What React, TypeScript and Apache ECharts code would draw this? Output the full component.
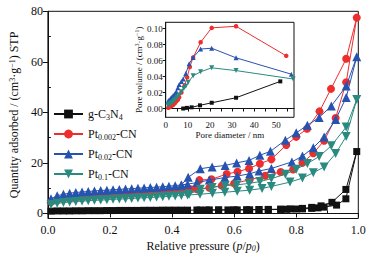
import React, { useEffect, useRef } from 'react';
import * as echarts from 'echarts';

const FONT = 'Liberation Serif';
const INK = '#111111';
const BLACK = '#111111';
const RED = '#ee2d2d';
const BLUE = '#2753b0';
const TEAL = '#2a8a80';
const DOWN_TRI = 'path://M0,0L10,0L5,9Z';

const seriesNames = ['g-C3N4', 'Pt0.002-CN', 'Pt0.02-CN', 'Pt0.1-CN'];
const legendLabels = ['g-C{sub|3}N{sub|4}', 'Pt{sub|0.002}-CN', 'Pt{sub|0.02}-CN', 'Pt{sub|0.1}-CN'];

const mainYTicks = [0, 20, 40, 60, 80];
const mainYMinor = [10, 30, 50, 70];
const mainXMinor = [0.1, 0.3, 0.5, 0.7, 0.9];
const insetXLabels = [0, 10, 20, 30, 40, 50];
const insetXTicks = [0, 5, 10, 15, 20, 25, 30, 35, 40, 45, 50, 55];
const insetYTicks = [0, 0.02, 0.04, 0.06, 0.08, 0.1];

// Isotherms: [p/p0, quantity adsorbed]
const gcnAds = [
  [0.01, 0.9], [0.03, 1.0], [0.05, 1.0], [0.07, 1.0], [0.09, 1.05], [0.11, 1.05], [0.13, 1.1], [0.15, 1.1],
  [0.17, 1.1], [0.19, 1.15], [0.21, 1.15], [0.23, 1.2], [0.25, 1.2], [0.27, 1.2], [0.29, 1.2], [0.31, 1.25],
  [0.33, 1.25], [0.35, 1.25], [0.37, 1.3], [0.39, 1.3], [0.41, 1.3], [0.43, 1.3], [0.45, 1.3], [0.49, 1.35],
  [0.51, 1.35], [0.55, 1.35], [0.58, 1.4], [0.61, 1.4], [0.65, 1.45], [0.68, 1.5], [0.71, 1.5], [0.75, 1.6],
  [0.77, 1.65], [0.8, 1.75], [0.82, 1.8], [0.85, 2.0], [0.87, 2.2], [0.89, 2.5], [0.93, 3.3], [0.96, 5.8],
  [0.995, 24.5],
];
const gcnDes = [
  [0.995, 24.5], [0.96, 9.5], [0.915, 4.4], [0.88, 3.0], [0.85, 2.4], [0.82, 2.0], [0.78, 1.8], [0.75, 1.7],
  [0.71, 1.6], [0.68, 1.55], [0.64, 1.5], [0.6, 1.45], [0.55, 1.4], [0.52, 1.4], [0.48, 1.35],
];
const pt002Ads = [
  [0.01, 4.5], [0.03, 5.2], [0.05, 5.6], [0.07, 5.9], [0.09, 6.1], [0.11, 6.3], [0.13, 6.5], [0.15, 6.7],
  [0.17, 6.9], [0.19, 7.0], [0.21, 7.2], [0.23, 7.3], [0.25, 7.5], [0.27, 7.6], [0.29, 7.8], [0.31, 7.9],
  [0.33, 8.1], [0.35, 8.2], [0.37, 8.4], [0.39, 8.6], [0.41, 8.8], [0.43, 9.0], [0.45, 9.2], [0.48, 9.6],
  [0.52, 10.2], [0.56, 11.0], [0.6, 11.9], [0.65, 13.3], [0.7, 14.9], [0.75, 16.4], [0.79, 17.4], [0.82, 20.0],
  [0.855, 23.8], [0.89, 28.8], [0.927, 37.8], [0.961, 51.9], [0.995, 77.5],
];
const pt002Des = [
  [0.995, 77.5], [0.961, 61.2], [0.912, 49.3], [0.875, 40.4], [0.835, 33.5], [0.8, 30.3], [0.768, 27.1],
  [0.72, 21.4], [0.683, 19.7], [0.648, 17.8], [0.611, 16.5], [0.576, 15.6], [0.527, 13.5], [0.488, 13.2],
  [0.46, 9.6],
];
const pt02Ads = [
  [0.01, 5.8], [0.03, 7.0], [0.05, 7.6], [0.07, 8.0], [0.09, 8.3], [0.11, 8.5], [0.13, 8.7], [0.15, 8.9],
  [0.17, 9.1], [0.19, 9.2], [0.21, 9.4], [0.23, 9.5], [0.25, 9.7], [0.27, 9.8], [0.29, 10.0], [0.31, 10.1],
  [0.33, 10.3], [0.35, 10.4], [0.37, 10.6], [0.39, 10.8], [0.41, 11.0], [0.43, 11.3], [0.45, 11.6], [0.48, 12.2],
  [0.52, 13.2], [0.57, 14.2], [0.61, 14.8], [0.65, 15.7], [0.68, 16.8], [0.72, 17.8], [0.786, 20.4], [0.82, 22.7],
  [0.855, 26.0], [0.89, 30.3], [0.927, 37.2], [0.961, 45.9], [0.995, 62.0],
];
const pt02Des = [
  [0.995, 62.0], [0.961, 50.4], [0.913, 42.5], [0.874, 38.0], [0.836, 34.9], [0.8, 31.9], [0.765, 29.0],
  [0.717, 24.6], [0.683, 23.0], [0.648, 21.0], [0.608, 20.0], [0.571, 19.0], [0.529, 18.4], [0.491, 17.7],
  [0.452, 14.3], [0.43, 11.3],
];
const pt1Ads = [
  [0.01, 3.5], [0.03, 4.0], [0.05, 4.3], [0.07, 4.5], [0.09, 4.7], [0.11, 4.9], [0.13, 5.0], [0.15, 5.2],
  [0.17, 5.3], [0.19, 5.4], [0.21, 5.6], [0.23, 5.7], [0.25, 5.8], [0.27, 5.9], [0.29, 6.1], [0.31, 6.2],
  [0.33, 6.3], [0.35, 6.5], [0.37, 6.6], [0.39, 6.8], [0.41, 6.9], [0.43, 7.1], [0.45, 7.3], [0.49, 7.6],
  [0.53, 8.0], [0.57, 8.4], [0.61, 8.8], [0.65, 9.2], [0.69, 9.9], [0.72, 10.7], [0.78, 12.4], [0.82, 14.0],
  [0.855, 16.1], [0.89, 18.4], [0.927, 23.7], [0.961, 30.5], [0.995, 45.1],
];
const pt1Des = [
  [0.995, 45.1], [0.961, 34.2], [0.913, 26.8], [0.874, 22.5], [0.836, 19.8], [0.8, 17.5], [0.765, 15.5],
  [0.72, 13.8], [0.683, 12.6], [0.648, 11.9], [0.608, 11.3], [0.571, 11.0], [0.529, 10.3], [0.491, 9.6],
  [0.455, 7.6],
];

// Inset pore size distribution: [pore diameter nm, pore volume]
const gcnPore = [[7.9, 0.0], [9.6, 0.0008], [11.7, 0.0015], [15.5, 0.004], [20.8, 0.0072], [31.8, 0.0135], [51.8, 0.034]];
const pt002Pore = [
  [1.2, 0.001], [1.6, 0.002], [2.0, 0.002], [2.5, 0.003], [3.0, 0.004], [3.5, 0.005], [4.2, 0.007], [4.8, 0.009],
  [5.5, 0.011], [6.1, 0.014], [7.1, 0.02], [8.6, 0.029], [9.7, 0.039], [10.9, 0.052], [12.4, 0.064], [15.8, 0.083],
  [20.8, 0.101], [31.8, 0.103], [54.5, 0.066],
];
const pt02Pore = [
  [1.2, 0.01], [1.8, 0.011], [2.3, 0.013], [2.8, 0.014], [3.3, 0.016], [3.8, 0.017], [4.3, 0.019], [4.8, 0.021],
  [5.5, 0.026], [6.1, 0.03], [7.1, 0.034], [7.9, 0.037], [9.1, 0.044], [10.6, 0.056], [12.4, 0.064], [15.8, 0.0745],
  [20.8, 0.0755], [31.8, 0.0635], [56.8, 0.043],
];
const pt1Pore = [
  [1.0, 0.004], [1.5, 0.005], [2.0, 0.006], [2.6, 0.007], [3.2, 0.008], [3.8, 0.01], [4.5, 0.012], [5.2, 0.014],
  [6.0, 0.017], [7.1, 0.021], [8.2, 0.025], [9.1, 0.028], [10.2, 0.033], [12.4, 0.041], [15.8, 0.046], [20.8, 0.051],
  [31.8, 0.0475], [57.6, 0.037],
];

const colors = [BLACK, RED, BLUE, TEAL];
const symbols = ['rect', 'circle', 'triangle', DOWN_TRI];
const mainSizes = [7, 8, 9, 9];
const insetSizes = [4, 4.5, 5, 5];
const isotherms = [
  [gcnAds, gcnDes],
  [pt002Ads, pt002Des],
  [pt02Ads, pt02Des],
  [pt1Ads, pt1Des],
];
const pores = [gcnPore, pt002Pore, pt02Pore, pt1Pore];

export default function App() {
  const ref = useRef<HTMLDivElement>(null);
  useEffect(() => {
    if (!ref.current) return;
    const chart = echarts.init(ref.current, null, { renderer: 'svg' });
    const axisLine = { show: true, lineStyle: { color: INK, width: 1 } };
    const mainLabel = { color: INK, fontFamily: FONT, fontSize: 12 };
    const insetLabel = { color: INK, fontFamily: FONT, fontSize: 9 };
    const mainSeries = isotherms.map(([ads, des], i) => ({
      name: seriesNames[i],
      type: 'line',
      xAxisIndex: 0,
      yAxisIndex: 0,
      data: [...ads, ...des.slice(1)],
      symbol: symbols[i],
      symbolSize: mainSizes[i],
      lineStyle: { color: colors[i], width: 1 },
      itemStyle: { color: colors[i] },
      z: 3 + i,
    }));
    const insetSeries = pores.map((d, i) => ({
      name: seriesNames[i],
      type: 'line',
      xAxisIndex: 2,
      yAxisIndex: 2,
      data: d,
      symbol: symbols[i],
      symbolSize: insetSizes[i],
      lineStyle: { color: colors[i], width: 1 },
      itemStyle: { color: colors[i] },
      z: 3 + i,
    }));
    const labelMap: Record<string, string> = {};
    seriesNames.forEach((n, i) => (labelMap[n] = legendLabels[i]));
    chart.setOption({
      animation: false,
      backgroundColor: '#ffffff',
      textStyle: { fontFamily: FONT },
      grid: [
        { left: 44.3, right: 18.7, top: 11.3, bottom: 40.5, show: true, borderColor: INK, borderWidth: 1, backgroundColor: 'transparent' },
        { left: 165.7, right: 83, top: 22.3, bottom: 141.7, show: true, borderColor: INK, borderWidth: 1, backgroundColor: '#ffffff' },
      ],
      legend: {
        data: seriesNames,
        orient: 'vertical',
        left: 48,
        top: 102,
        itemWidth: 29,
        itemHeight: 11,
        itemGap: 6,
        formatter: (name: string) => labelMap[name],
        textStyle: {
          color: INK,
          fontFamily: FONT,
          fontSize: 12,
          lineHeight: 14,
          rich: { sub: { fontFamily: FONT, fontSize: 8, verticalAlign: 'bottom', lineHeight: 6, color: INK } },
        },
      },
      xAxis: [
        {
          gridIndex: 0, type: 'value', min: 0, max: 1, interval: 0.2,
          axisLine, splitLine: { show: false },
          axisTick: { show: true, inside: false, length: 4, lineStyle: { color: INK } },
          axisLabel: { ...mainLabel, margin: 5, formatter: (v: number) => v.toFixed(1) },
          name: 'Relative pressure ({i|p}/{i|p}{isub|0})',
          nameLocation: 'middle',
          nameGap: 21,
          nameTextStyle: {
            ...mainLabel,
            rich: {
              i: { fontFamily: FONT, fontSize: 12, fontStyle: 'italic', color: INK },
              isub: { fontFamily: FONT, fontSize: 8, fontStyle: 'italic', verticalAlign: 'bottom', lineHeight: 6, color: INK },
            },
          },
        },
        {
          gridIndex: 0, type: 'value', min: 0, max: 1, position: 'bottom',
          axisLine: { show: false }, splitLine: { show: false }, axisLabel: { show: false },
          axisTick: { show: true, inside: true, length: 3, customValues: mainXMinor, lineStyle: { color: INK } },
        },
        {
          gridIndex: 1, type: 'value', min: 0, max: 58,
          axisLine, splitLine: { show: false },
          axisTick: { show: true, inside: false, length: 3, customValues: insetXTicks, lineStyle: { color: INK } },
          axisLabel: { ...insetLabel, margin: 3, customValues: insetXLabels },
          name: 'Pore diameter / nm',
          nameLocation: 'middle',
          nameGap: 12,
          nameTextStyle: { ...insetLabel },
        },
      ],
      yAxis: [
        {
          gridIndex: 0, type: 'value', min: -2, max: 80,
          axisLine, splitLine: { show: false },
          axisTick: { show: true, inside: false, length: 5, customValues: mainYTicks, lineStyle: { color: INK } },
          axisLabel: { ...mainLabel, margin: 5, customValues: mainYTicks },
          name: 'Quantity adsorbed / (cm{sup|3}·g{sup|−1}) STP',
          nameLocation: 'middle',
          nameGap: 22,
          nameTextStyle: {
            ...mainLabel,
            rich: { sup: { fontFamily: FONT, fontSize: 8, verticalAlign: 'top', lineHeight: 6, color: INK } },
          },
        },
        {
          gridIndex: 0, type: 'value', min: -2, max: 80, position: 'left',
          axisLine: { show: false }, splitLine: { show: false }, axisLabel: { show: false },
          axisTick: { show: true, inside: true, length: 3, customValues: mainYMinor, lineStyle: { color: INK } },
        },
        {
          gridIndex: 1, type: 'value', min: -0.011, max: 0.108,
          axisLine, splitLine: { show: false },
          axisTick: { show: true, inside: false, length: 3, customValues: insetYTicks, lineStyle: { color: INK } },
          axisLabel: { ...insetLabel, margin: 3, customValues: insetYTicks, formatter: (v: number) => v.toFixed(2) },
          name: 'Pore volume / (cm{sup|3}·g{sup|−1})',
          nameLocation: 'middle',
          nameGap: 22,
          nameTextStyle: {
            ...insetLabel,
            rich: { sup: { fontFamily: FONT, fontSize: 6, verticalAlign: 'top', lineHeight: 4, color: INK } },
          },
        },
      ],
      series: [...mainSeries, ...insetSeries],
    });
    return () => chart.dispose();
  }, []);
  return <div ref={ref} style={{ width: 377, height: 259, position: 'absolute', left: 0, top: 0 }} />;
}
